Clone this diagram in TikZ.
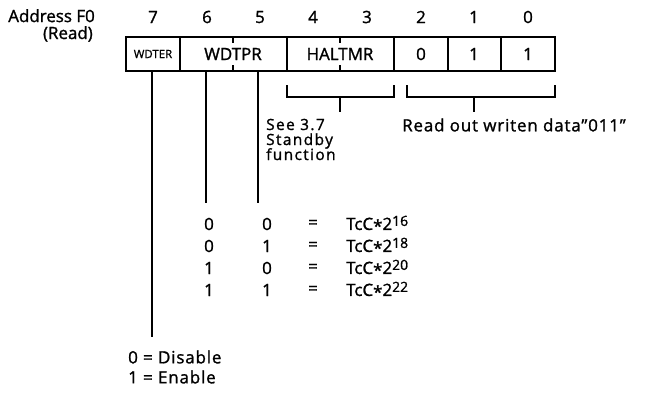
\documentclass[tikz,border=0pt]{standalone}
\usepackage{fontspec}
\setmainfont{Open Sans}[FakeBold=1.3]
\begin{document}
\begin{tikzpicture}[x=1bp,y=-1bp,
  txt/.style={inner sep=0pt,font=\fontsize{17}{17}\selectfont},
  wide/.style={inner sep=0pt,font=\fontsize{17}{13.5}\selectfont\addfontfeatures{LetterSpace=5}},
  seetxt/.style={inner sep=0pt,font=\fontsize{15.5}{14}\selectfont\addfontfeatures{LetterSpace=9}},
  small/.style={inner sep=0pt,font=\fontsize{11.5}{12}\selectfont},
  ln/.style={line width=1.2bp}]
\useasboundingbox (0,0) rectangle (651,392);
% labels left
\node[txt,anchor=north east,align=right,font=\fontsize{17}{17}\selectfont] (addr) at (95,9) {Address F0\\(Read)\hspace*{2bp}};
% bit numbers
\foreach \x/\b in {153/7,207/6,260/5,313/4,367/3,421/2,474/1,528/0}
  \node[txt] (b\b) at (\x,17) {\b};
% register box
\draw[ln] (126,37) rectangle (555,71);
\foreach \x in {180,287,394,448,501} \draw[ln] (\x,37) -- (\x,71);
\foreach \x in {233,340} {\draw[ln] (\x,37) -- (\x,43); \draw[ln] (\x,71) -- (\x,65);}
\node[small] (wdter) at (153,54) {WDTER};
\node[txt] (wdtpr) at (233,54) {WDTPR};
\node[txt] (haltmr) at (340,54) {HALTMR};
\node[txt] (v2) at (421,54) {0};
\node[txt] (v1) at (474,54) {1};
\node[txt] (v0) at (528,54) {1};
% lines down
\coordinate (e7) at (152,337);
\coordinate (e6) at (206,203);
\coordinate (e5) at (258,203);
\draw[ln] (152,71) -- (e7);
\draw[ln] (206,71) -- (e6);
\draw[ln] (258,71) -- (e5);
% brackets
\draw[ln] (287,85) -- (287,97) -- (394,97) -- (394,85);
\draw[ln] (340,97) -- (340,112);
\draw[ln] (407,85) -- (407,97) -- (555,97) -- (555,85);
\draw[ln] (474,97) -- (474,112);
\node[seetxt,anchor=base west] (see1) at (266,130) {See 3.7};
\node[seetxt,anchor=base west] (see2) at (266,145) {Standby};
\node[seetxt,anchor=base west] (see3) at (266,160) {function};
\node[wide,anchor=west] (readout) at (402,125) {Read out writen data”011”};
% table
\foreach \y/\a/\c/\e in {224/0/0/16,246/0/1/18,268/1/0/20,290/1/1/22}{
  \node[txt] at (209,\y) {\a};
  \node[txt] at (267,\y) {\c};
  \node[txt] at (313,\y) {=};
  \node[txt,anchor=west] at (346,\y) {TcC\raisebox{-0.25ex}{*}2\raisebox{0.45ex}{\fontsize{14}{14}\selectfont\e}};
}
% enable
\node[wide,anchor=west] (dis) at (128,357) {0 = Disable};
\node[wide,anchor=west] (ena) at (128,377) {1 = Enable};
\end{tikzpicture}
\end{document}
